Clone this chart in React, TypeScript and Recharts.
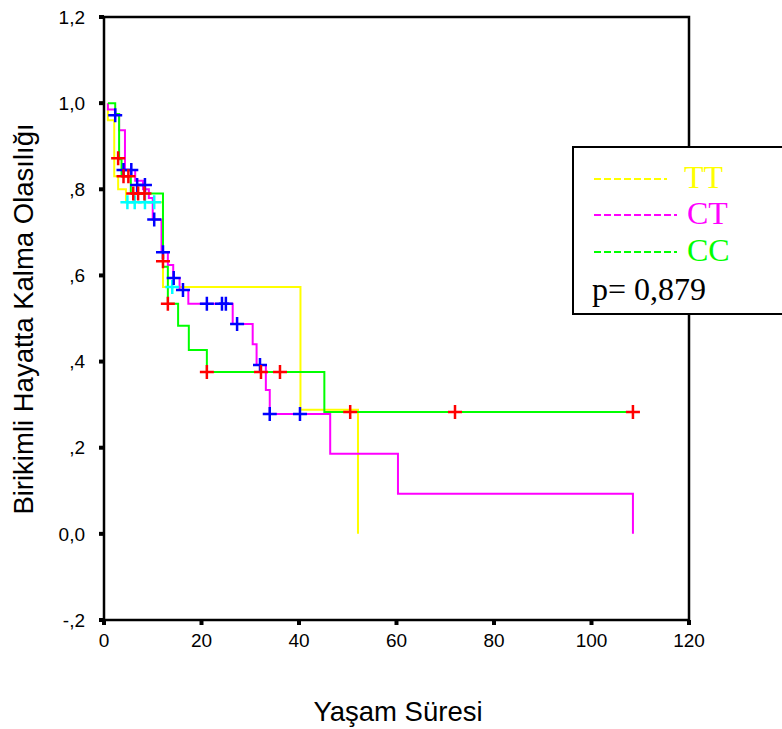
import React from 'react';
import { ComposedChart, Line, Scatter, XAxis, YAxis, ReferenceArea } from 'recharts';

// step points (time, cumulative survival) per genotype
const ttTimes = [0.8, 0.8, 2.1, 2.9, 4.5, 12.1, 40.3, 52.1];
const ttSurv = [1.0, 0.96, 0.83, 0.8, 0.77, 0.573, 0.288, 0];

const ctTimes = [0.8, 0.8, 2.3, 3.1, 4.3, 6.4, 8.0, 9.2, 10.0, 11.8, 13.1, 14.2, 15.5, 17.3, 26.4, 30.5, 31.3, 33.2, 34.0, 46.4, 60.3, 108.5];
const ctSurv = [1.0, 0.985, 0.975, 0.937, 0.845, 0.82, 0.8, 0.78, 0.73, 0.654, 0.624, 0.594, 0.566, 0.534, 0.487, 0.44, 0.392, 0.334, 0.278, 0.186, 0.093, 0];

const ccTimes = [0.8, 2.3, 3.1, 3.6, 5.5, 12.1, 13.1, 15.2, 17.4, 21.1, 45.2, 108.5];
const ccSurv = [1.0, 0.975, 0.87, 0.83, 0.79, 0.62, 0.534, 0.483, 0.427, 0.376, 0.283, 0.283];

// censored cases
const ttCensT = [4.8, 6.3, 8.4, 10.3, 14.0];
const ttCensS = [0.77, 0.77, 0.77, 0.77, 0.573];
const ctCensT = [2.3, 4.0, 5.6, 6.8, 8.4, 10.3, 12.1, 14.3, 16.2, 21.1, 24.2, 25.0, 27.3, 32.0, 34.0, 40.2];
const ctCensS = [0.972, 0.845, 0.845, 0.81, 0.81, 0.73, 0.654, 0.594, 0.566, 0.534, 0.534, 0.534, 0.487, 0.392, 0.278, 0.278];
const ccCensT = [2.9, 4.0, 5.0, 6.0, 7.0, 8.3, 12.1, 13.1, 21.1, 32.2, 36.1, 50.5, 72, 108.5];
const ccCensS = [0.872, 0.83, 0.83, 0.79, 0.79, 0.79, 0.633, 0.534, 0.376, 0.376, 0.376, 0.283, 0.283, 0.283];

const xTicks = [0, 20, 40, 60, 80, 100, 120];
const yTicks = [-0.2, 0, 0.2, 0.4, 0.6, 0.8, 1.0, 1.2];

const toRows = (t: number[], s: number[]) => t.map((v, i) => ({ t: v, s: s[i] }));

const fmtY = (v: number) => {
  let s = v.toFixed(1);
  if (Math.abs(v) < 1 && v !== 0) s = s.replace('0.', '.');
  return s.replace('.', ',');
};

const cross = (color: string) => (props: any) => {
  const { cx, cy } = props;
  if (cx == null || cy == null) return <g />;
  return (
    <path
      d={`M${cx - 7},${cy}H${cx + 7}M${cx},${cy - 7}V${cy + 7}`}
      stroke={color}
      strokeWidth={2.5}
      fill="none"
    />
  );
};

const tickStyle = { fill: '#000', fontSize: 19, fontFamily: 'Liberation Sans, Arial, sans-serif' };

export default function App() {
  return (
    <div style={{ position: 'absolute', left: 0, top: 0, width: 782, height: 729, overflow: 'hidden', background: '#fff' }}>
      <ComposedChart width={782} height={729} margin={{ top: 17, right: 93, bottom: 69, left: 44 }}>
        <XAxis
          type="number"
          dataKey="t"
          domain={[0, 120]}
          ticks={xTicks}
          interval={0}
          axisLine={false}
          tickLine={{ stroke: '#000', strokeWidth: 4 }}
          tickSize={5}
          tickMargin={9}
          height={40}
          tick={tickStyle}
          allowDataOverflow
        />
        <YAxis
          type="number"
          domain={[-0.2, 1.2]}
          ticks={yTicks}
          interval={0}
          axisLine={false}
          tickLine={{ stroke: '#000', strokeWidth: 4 }}
          tickSize={5}
          tickMargin={14}
          width={60}
          tick={tickStyle}
          tickFormatter={fmtY}
          allowDataOverflow
        />
        <ReferenceArea x1={0} x2={120} y1={-0.2} y2={1.2} fill="none" fillOpacity={0} stroke="#000" strokeWidth={2.5} ifOverflow="visible" />
        <Line data={toRows(ttTimes, ttSurv)} dataKey="s" type="stepAfter" stroke="#FFFF00" strokeWidth={2} dot={false} activeDot={false} isAnimationActive={false} />
        <Line data={toRows(ctTimes, ctSurv)} dataKey="s" type="stepAfter" stroke="#FF00FF" strokeWidth={2} dot={false} activeDot={false} isAnimationActive={false} />
        <Line data={toRows(ccTimes, ccSurv)} dataKey="s" type="stepAfter" stroke="#00FF00" strokeWidth={2} dot={false} activeDot={false} isAnimationActive={false} />
        <Scatter data={toRows(ttCensT, ttCensS)} dataKey="s" shape={cross('#00FFFF')} isAnimationActive={false} />
        <Scatter data={toRows(ctCensT, ctCensS)} dataKey="s" shape={cross('#0000FF')} isAnimationActive={false} />
        <Scatter data={toRows(ccCensT, ccCensS)} dataKey="s" shape={cross('#FF0000')} isAnimationActive={false} />
      </ComposedChart>
      <svg width={782} height={729} style={{ position: 'absolute', left: 0, top: 0, pointerEvents: 'none' }}>
        <rect x={573} y={147} width={230} height={167} fill="#fff" stroke="#000" strokeWidth={2} />
        <g fontFamily="Liberation Serif, Times New Roman, serif" fontSize={32}>
          <line x1={594} x2={667} y1={179} y2={179} stroke="#FFFF00" strokeWidth={2} strokeDasharray="7 3" />
          <text x={684} y={188} fill="#FFFF00">TT</text>
          <line x1={594} x2={677} y1={215} y2={215} stroke="#FF00FF" strokeWidth={2} strokeDasharray="7 3" />
          <text x={687} y={224} fill="#FF00FF">CT</text>
          <line x1={594} x2={677} y1={252} y2={252} stroke="#00FF00" strokeWidth={2} strokeDasharray="7 3" />
          <text x={687} y={261} fill="#00FF00">CC</text>
          <text x={592} y={300} fill="#000">p= 0,879</text>
        </g>
        <g fontFamily="Liberation Sans, Arial, sans-serif" fontSize={27.5} fill="#000">
          <text x={398} y={721} textAnchor="middle">Yaşam Süresi</text>
          <text x={0} y={0} textAnchor="middle" transform="translate(33,319) rotate(-90)">Birikimli Hayatta Kalma Olasılığı</text>
        </g>
      </svg>
    </div>
  );
}
